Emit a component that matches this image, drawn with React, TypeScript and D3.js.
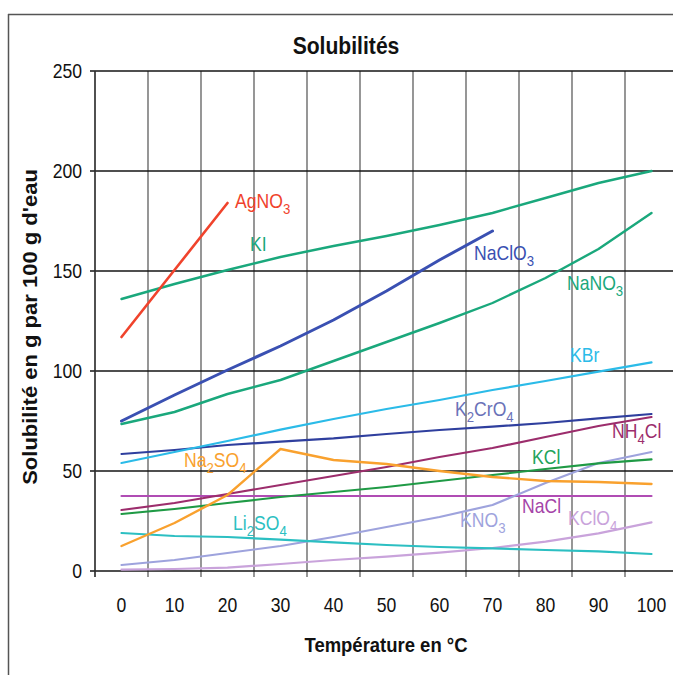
import React from 'react';
import * as d3 from 'd3';

const temps = [0, 10, 20, 30, 40, 50, 60, 70, 80, 90, 100];
const yTicks = [0, 50, 100, 150, 200, 250];

const agno3 = [117, 150.5, 184];
const ki = [136, 143.5, 150.5, 157, 162.5, 167.5, 173, 179, 186.5, 194, 200];
const naclo3 = [75, 88, 100.5, 112.5, 125.5, 140, 155.5, 170];
const nano3 = [73.5, 79.5, 88.5, 95.5, 105, 114.5, 124, 134, 146.5, 161, 179];
const kbr = [54, 59.5, 65, 70.7, 76, 81, 85.5, 90.5, 95, 99.7, 104.3];
const k2cro4 = [58.5, 60.5, 63, 64.7, 66.3, 68.5, 70.5, 72.2, 74, 76.3, 78.5];
const nh4cl = [30.5, 34, 38.5, 43, 47.5, 52, 57, 61.5, 67, 72.5, 77];
const kcl = [28.5, 31, 34, 37, 39.5, 42, 45, 48, 51, 53.8, 55.8];
const na2so4 = [12.5, 24, 38, 61, 55.5, 53.5, 50, 47, 45, 44.5, 43.5];
const nacl = [37.5, 37.5, 37.5, 37.5, 37.5, 37.5, 37.5, 37.5, 37.5, 37.5, 37.5];
const li2so4 = [19, 17.5, 17, 15.7, 14.3, 13, 12, 11.3, 10.5, 9.8, 8.5];
const kno3 = [3, 5.5, 9, 12.5, 17, 22, 27, 33, 44, 54, 59.5];
const kclo4 = [0.7, 1, 1.7, 3.5, 5.5, 7.2, 9.2, 11.5, 14.7, 18.8, 24.3];

const series = [
  { key: 'NaCl', values: nacl, color: '#b04cb4', w: 2.2 },
  { key: 'KClO4', values: kclo4, color: '#c9a3db', w: 2.2 },
  { key: 'KNO3', values: kno3, color: '#9ea3dd', w: 2.2 },
  { key: 'Li2SO4', values: li2so4, color: '#2cbfc2', w: 2.2 },
  { key: 'KCl', values: kcl, color: '#1f9a45', w: 2.2 },
  { key: 'NH4Cl', values: nh4cl, color: '#9c2d6c', w: 2.2 },
  { key: 'Na2SO4', values: na2so4, color: '#f9a12e', w: 2.4 },
  { key: 'K2CrO4', values: k2cro4, color: '#2f3f9e', w: 2.2 },
  { key: 'KBr', values: kbr, color: '#2bbbe8', w: 2.2 },
  { key: 'NaNO3', values: nano3, color: '#1aa87c', w: 2.4 },
  { key: 'NaClO3', values: naclo3, color: '#3a50b2', w: 3 },
  { key: 'KI', values: ki, color: '#1aa87c', w: 2.4 },
  { key: 'AgNO3', values: agno3, color: '#f0432c', w: 2.6 },
];

type Part = { t: string; sub?: boolean };
const labels: { parts: Part[]; x: number; y: number; color: string }[] = [
  { parts: [{ t: 'AgNO' }, { t: '3', sub: true }], x: 235, y: 208, color: '#f0432c' },
  { parts: [{ t: 'KI' }], x: 250, y: 251, color: '#1aa87c' },
  { parts: [{ t: 'NaClO' }, { t: '3', sub: true }], x: 474, y: 260, color: '#3a50b2' },
  { parts: [{ t: 'NaNO' }, { t: '3', sub: true }], x: 567, y: 290, color: '#1aa87c' },
  { parts: [{ t: 'KBr' }], x: 570, y: 362, color: '#2bbbe8' },
  { parts: [{ t: 'K' }, { t: '2', sub: true }, { t: 'CrO' }, { t: '4', sub: true }], x: 455, y: 416, color: '#6a72b8' },
  { parts: [{ t: 'NH' }, { t: '4', sub: true }, { t: 'Cl' }], x: 612, y: 438, color: '#9c2d6c' },
  { parts: [{ t: 'KCl' }], x: 532, y: 464, color: '#22a35a' },
  { parts: [{ t: 'Na' }, { t: '2', sub: true }, { t: 'SO' }, { t: '4', sub: true }], x: 184, y: 467, color: '#f9a12e' },
  { parts: [{ t: 'Li' }, { t: '2', sub: true }, { t: 'SO' }, { t: '4', sub: true }], x: 233, y: 530, color: '#2cbfc2' },
  { parts: [{ t: 'NaCl' }], x: 522, y: 513, color: '#a544a8' },
  { parts: [{ t: 'KNO' }, { t: '3', sub: true }], x: 460, y: 527, color: '#9ea3dd' },
  { parts: [{ t: 'KClO' }, { t: '4', sub: true }], x: 568, y: 525, color: '#c9a3db' },
];

const FONT = "'Liberation Sans', Arial, sans-serif";
const SX = 0.88;

export default function App() {
  const x = d3.scaleBand<number>().domain(temps).range([95, 678]).padding(0);
  const y = d3.scaleLinear().domain([0, 250]).range([571, 71]);
  const cx = (t: number) => (x(t) as number) + x.bandwidth() / 2;
  const line = d3
    .line<[number, number]>()
    .x((d) => cx(d[0]))
    .y((d) => y(d[1]));

  const bounds = temps.map((t) => x(t) as number).concat([(x(100) as number) + x.bandwidth()]);

  return (
    <svg
      width={673}
      height={675}
      style={{ position: 'absolute', left: 0, top: 0, background: '#fff' }}
      fontFamily={FONT}
    >
      <rect x={0} y={0} width={673} height={675} fill="#fff" />
      {/* outer frame */}
      <line x1={8.5} y1={14} x2={8.5} y2={675} stroke="#555" strokeWidth={1.5} />
      <line x1={8} y1={14.5} x2={673} y2={14.5} stroke="#555" strokeWidth={1.5} />

      {/* title */}
      <g transform={`translate(346,54) scale(${SX},1)`}>
        <text textAnchor="middle" fontSize={24} fontWeight="bold" fill="#111">
          Solubilités
        </text>
      </g>

      {/* vertical gridlines */}
      {bounds.map((b, i) => (
        <line key={'v' + i} x1={b} x2={b} y1={y(250)} y2={y(0) + 6} stroke="#6a6a6a" strokeWidth={1.4} />
      ))}
      {/* horizontal gridlines */}
      {yTicks.map((v) => (
        <line key={'h' + v} x1={90} x2={678} y1={y(v)} y2={y(v)} stroke="#151515" strokeWidth={1.3} />
      ))}
      <line x1={95} x2={95} y1={y(250)} y2={y(0) + 6} stroke="#333" strokeWidth={1.4} />

      {/* y tick labels */}
      {yTicks.map((v) => (
        <g key={'yl' + v} transform={`translate(82,${y(v) + 7}) scale(${SX},1)`}>
          <text textAnchor="end" fontSize={20} fill="#111">
            {v}
          </text>
        </g>
      ))}
      {/* x tick labels */}
      {temps.map((t) => (
        <g key={'xl' + t} transform={`translate(${cx(t)},612) scale(${SX},1)`}>
          <text textAnchor="middle" fontSize={20} fill="#111">
            {t}
          </text>
        </g>
      ))}

      {/* axis titles */}
      <g transform={`translate(386,652) scale(${SX},1)`}>
        <text textAnchor="middle" fontSize={21} fontWeight="bold" fill="#111">
          Température en °C
        </text>
      </g>
      <g transform={`translate(37,327) rotate(-90) scale(1,${SX})`}>
        <text textAnchor="middle" fontSize={22} fontWeight="bold" fill="#111">
          Solubilité en g par 100 g d'eau
        </text>
      </g>

      {/* series */}
      {series.map((s) => (
        <path
          key={s.key}
          d={line(s.values.map((v, i) => [temps[i], v] as [number, number])) || ''}
          fill="none"
          stroke={s.color}
          strokeWidth={s.w}
          strokeLinejoin="round"
          strokeLinecap="round"
        />
      ))}

      {/* labels */}
      {labels.map((l, i) => {
        let prevSub = false;
        return (
          <g key={'lab' + i} transform={`translate(${l.x},${l.y}) scale(${SX},1)`}>
            <text fontSize={20} fill={l.color}>
              {l.parts.map((p, j) => {
                let dy = 0;
                if (p.sub && !prevSub) dy = 6;
                else if (!p.sub && prevSub) dy = -6;
                prevSub = !!p.sub;
                return (
                  <tspan key={j} dy={dy} fontSize={p.sub ? 15 : 20}>
                    {p.t}
                  </tspan>
                );
              })}
            </text>
          </g>
        );
      })}
    </svg>
  );
}
